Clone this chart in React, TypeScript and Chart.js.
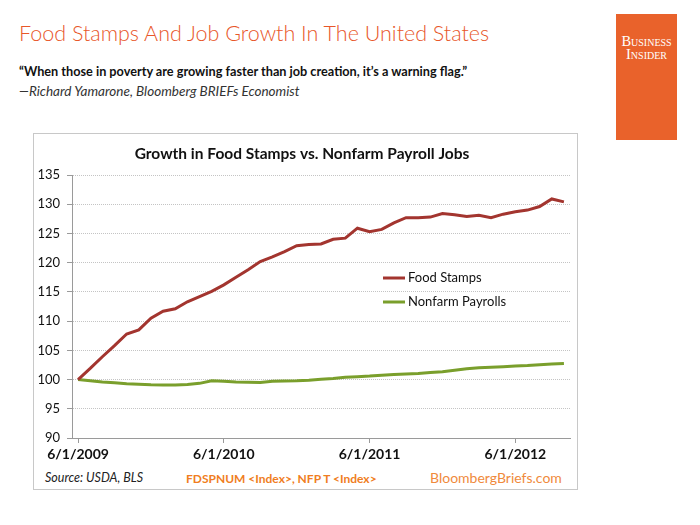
import React, { useEffect, useRef } from 'react';
import { Chart, registerables } from 'chart.js';

Chart.register(...registerables);

const months = [
  '6/1/2009', '7/1/2009', '8/1/2009', '9/1/2009', '10/1/2009', '11/1/2009', '12/1/2009',
  '1/1/2010', '2/1/2010', '3/1/2010', '4/1/2010', '5/1/2010', '6/1/2010', '7/1/2010',
  '8/1/2010', '9/1/2010', '10/1/2010', '11/1/2010', '12/1/2010', '1/1/2011', '2/1/2011',
  '3/1/2011', '4/1/2011', '5/1/2011', '6/1/2011', '7/1/2011', '8/1/2011', '9/1/2011',
  '10/1/2011', '11/1/2011', '12/1/2011', '1/1/2012', '2/1/2012', '3/1/2012', '4/1/2012',
  '5/1/2012', '6/1/2012', '7/1/2012', '8/1/2012', '9/1/2012', '10/1/2012',
];

const foodStamps = [
  100, 101.9, 103.9, 105.8, 107.8, 108.5, 110.5, 111.7, 112.1, 113.3, 114.2,
  115.1, 116.2, 117.5, 118.8, 120.2, 121.0, 121.9, 122.9, 123.1, 123.2,
  124.0, 124.2, 125.9, 125.3, 125.7, 126.8, 127.7, 127.7, 127.8, 128.4,
  128.2, 127.9, 128.1, 127.7, 128.3, 128.7, 129.0, 129.6, 130.9, 130.4,
];

const nonfarmPayrolls = [
  100, 99.8, 99.6, 99.45, 99.3, 99.2, 99.1, 99.05, 99.05, 99.15, 99.35,
  99.8, 99.7, 99.6, 99.55, 99.5, 99.7, 99.75, 99.8, 99.9, 100.05,
  100.2, 100.4, 100.5, 100.6, 100.75, 100.85, 100.95, 101.05, 101.2, 101.35,
  101.6, 101.85, 102.0, 102.1, 102.2, 102.3, 102.4, 102.55, 102.65, 102.75,
];

const xTickLabels = ['6/1/2009', '6/1/2010', '6/1/2011', '6/1/2012'];
const seriesNames = ['Food Stamps', 'Nonfarm Payrolls'];
const yMin = 90;
const yMax = 135;
const yStep = 5;

const RED = '#a3352f';
const GREEN = '#7a9f2c';

const legendPlugin = {
  id: 'inlineLegend',
  afterDatasetsDraw(chart: any) {
    const { ctx, chartArea } = chart;
    chart.data.datasets.forEach((ds: any, i: number) => {
      const x0 = chartArea.left + 311;
      const y = chartArea.top + 103 + i * 24;
      ctx.save();
      ctx.strokeStyle = ds.borderColor;
      ctx.lineWidth = 3;
      ctx.beginPath();
      ctx.moveTo(x0, y);
      ctx.lineTo(x0 + 22, y);
      ctx.stroke();
      ctx.fillStyle = '#111';
      ctx.font = '13px Lato';
      ctx.textBaseline = 'middle';
      ctx.textAlign = 'left';
      ctx.fillText(ds.label, x0 + 25, y);
      ctx.restore();
    });
  },
};

function ChartBox() {
  const ref = useRef<HTMLCanvasElement>(null);
  useEffect(() => {
    if (!ref.current) return;
    const chart = new Chart(ref.current, {
      type: 'line',
      data: {
        labels: months,
        datasets: [
          {
            label: seriesNames[0],
            data: foodStamps,
            borderColor: RED,
            borderWidth: 3,
            pointRadius: 0,
            tension: 0,
          },
          {
            label: seriesNames[1],
            data: nonfarmPayrolls,
            borderColor: GREEN,
            borderWidth: 3,
            pointRadius: 0,
            tension: 0,
          },
        ],
      },
      options: {
        animation: false,
        responsive: false,
        devicePixelRatio: 1,
        layout: { padding: { left: 0, right: 7, top: 0, bottom: 0 } },
        plugins: {
          legend: { display: false },
          tooltip: { enabled: false },
          title: {
            display: true,
            text: 'Growth in Food Stamps vs. Nonfarm Payroll Jobs',
            color: '#111',
            font: { family: 'Lato', size: 15.5, weight: 'bold' },
            padding: { top: 11, bottom: 11.4 },
          },
        },
        scales: {
          x: {
            type: 'category',
            offset: true,
            afterBuildTicks: (s: any) => {
              s.ticks = s.ticks.filter((t: any) => xTickLabels.includes(months[t.value]));
            },
            afterFit: (s: any) => {
              s.height = 31;
            },
            grid: {
              drawOnChartArea: false,
              drawTicks: true,
              tickLength: 5,
              tickColor: '#9a9a9a',
              offset: false,
            },
            border: { display: true, color: '#9a9a9a', width: 1 },
            ticks: {
              autoSkip: false,
              maxRotation: 0,
              padding: 3,
              color: '#111',
              font: { family: 'Lato', size: 14, weight: 'bold' },
            },
          },
          y: {
            min: yMin,
            max: yMax,
            afterFit: (s: any) => {
              s.width = 38;
            },
            grid: {
              color: '#c4c4c4',
              lineWidth: 1,
              drawTicks: true,
              tickLength: 5,
              tickColor: '#9a9a9a',
            },
            border: { display: true, color: '#9a9a9a', width: 1, dash: [1, 1] },
            ticks: {
              stepSize: yStep,
              padding: 7,
              color: '#111',
              font: { family: 'Lato', size: 13 },
            },
          },
        },
      },
      plugins: [legendPlugin],
    });
    return () => chart.destroy();
  }, []);
  return <canvas ref={ref} width={543} height={335} style={{ position: 'absolute', left: 0, top: 0 }} />;
}

export default function App() {
  useEffect(() => {
    document.body.style.margin = '0';
  }, []);
  return (
    <div style={{ position: 'absolute', left: 0, top: 0, width: 700, height: 525, background: '#fff', overflow: 'hidden', fontFamily: 'Lato, sans-serif' }}>
      <div style={{ position: 'absolute', left: 19, top: 20, fontSize: 21.5, lineHeight: '26px', color: '#e8572a', fontWeight: 300, whiteSpace: 'nowrap' }}>
        Food Stamps And Job Growth In The United States
      </div>
      <div style={{ position: 'absolute', left: 19, top: 63, fontSize: 12.7, lineHeight: '16px', color: '#111', fontWeight: 'bold', whiteSpace: 'nowrap' }}>
        “When those in poverty are growing faster than job creation, it’s a warning flag.”
      </div>
      <div style={{ position: 'absolute', left: 19, top: 83, fontSize: 13.5, lineHeight: '17px', color: '#333', fontStyle: 'italic', whiteSpace: 'nowrap' }}>
        —Richard Yamarone, Bloomberg BRIEFs Economist
      </div>
      <div style={{ position: 'absolute', left: 616, top: 14, width: 61, height: 126, background: '#e9622b', color: '#fff', fontFamily: '"Liberation Serif", serif', fontVariant: 'small-caps', fontSize: 14.5, lineHeight: '13px', textAlign: 'center', paddingTop: 21, boxSizing: 'border-box' }}>
        Business<br />Insider
      </div>
      <div style={{ position: 'absolute', left: 33, top: 133, width: 545, height: 357, border: '1px solid #c8c8c8', boxSizing: 'border-box' }}>
        <ChartBox />
        <div style={{ position: 'absolute', left: 11, top: 336, fontSize: 12.5, fontStyle: 'italic', color: '#222', whiteSpace: 'nowrap' }}>Source: USDA, BLS</div>
        <div style={{ position: 'absolute', left: 152, top: 337, fontSize: 12, fontWeight: 'bold', color: '#f07d22', whiteSpace: 'nowrap' }}>FDSPNUM &lt;Index&gt;, NFP T &lt;Index&gt;</div>
        <div style={{ position: 'absolute', left: 396, top: 335, fontSize: 14, color: '#f08a3c', whiteSpace: 'nowrap' }}>BloombergBriefs.com</div>
      </div>
    </div>
  );
}
